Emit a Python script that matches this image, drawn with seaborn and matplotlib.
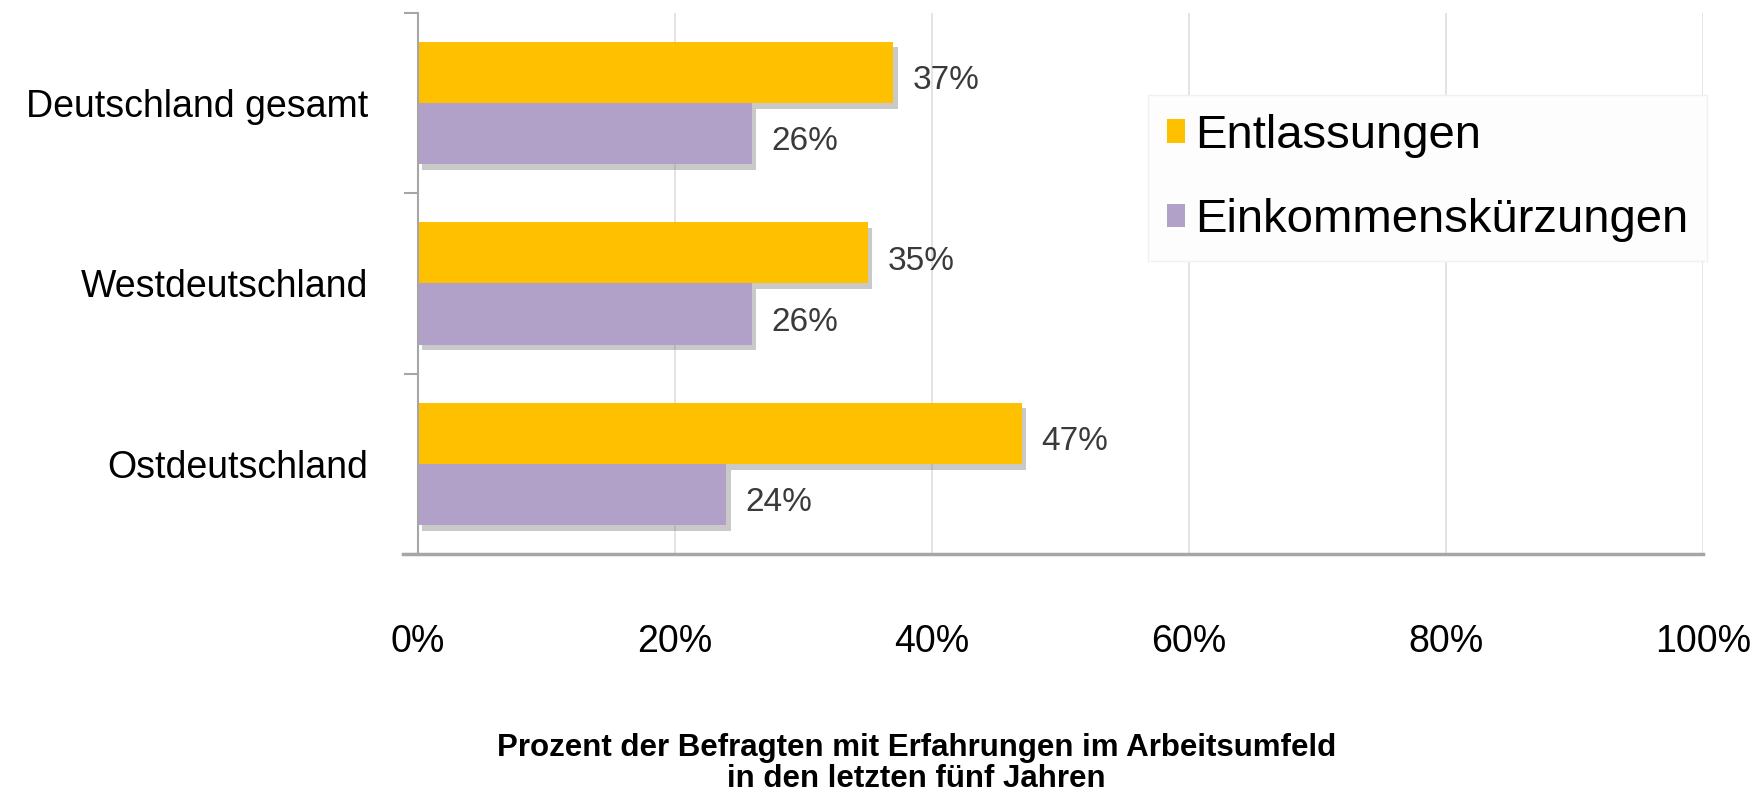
import matplotlib
matplotlib.use("Agg")
import matplotlib.pyplot as plt
import matplotlib.patheffects as pe
from matplotlib.patches import Patch
from matplotlib.ticker import FixedLocator, PercentFormatter
import seaborn as sns
import pandas as pd

categories = ["Deutschland gesamt", "Westdeutschland", "Ostdeutschland"]
series = ["Entlassungen", "Einkommenskürzungen"]
entlassungen = [37, 35, 47]
einkommen = [26, 26, 24]
colors = ["#FFC000", "#B1A0C7"]
x_ticks = [0, 20, 40, 60, 80, 100]

sns.set_style("white")
plt.rcParams["font.family"] = ["Liberation Sans Narrow", "Liberation Sans", "DejaVu Sans"]
plt.rcParams["text.color"] = "black"

df = pd.DataFrame({
    "Region": categories * 2,
    "Serie": [series[0]] * 3 + [series[1]] * 3,
    "Wert": entlassungen + einkommen,
})

fig = plt.figure(figsize=(17.61, 7.94), dpi=100)
ax = fig.add_axes([0.2374, 0.302, 0.7296, 0.682])

sns.barplot(data=df, y="Region", x="Wert", hue="Serie", order=categories,
            hue_order=series, palette=colors, orient="h", width=0.68,
            saturation=1, ax=ax, errorbar=None, edgecolor="none", legend=False)

shadow = [pe.SimplePatchShadow(offset=(3, -4), shadow_rgbFace="#666666", alpha=0.35), pe.Normal()]
for p in ax.patches:
    p.set_path_effects(shadow)

for cont in ax.containers:
    anns = ax.bar_label(cont, labels=[f"{v:.0f}%" for v in cont.datavalues], padding=14,
                        fontsize=24, color="#3a3a3a")
    for a in anns:
        a.xyann = (14, -6)

ax.set_xlim(0, 100)
ax.set_ylim(2.5, -0.5)
ax.xaxis.set_major_locator(FixedLocator(x_ticks))
ax.xaxis.set_major_formatter(PercentFormatter(decimals=0))
ax.grid(axis="x", color="#dcdcdc", linewidth=1.1)
ax.set_axisbelow(True)
for s in ["top", "right"]:
    ax.spines[s].set_visible(False)
ax.spines["left"].set_color("#a6a6a6")
ax.spines["bottom"].set_color("#a6a6a6")
ax.spines["left"].set_linewidth(1.5)
ax.spines["bottom"].set_linewidth(2.5)
ax.spines["bottom"].set_bounds(-1.2, 100)
ax.spines["left"].set_bounds(2.5, -0.5)

ax.tick_params(axis="x", which="major", length=10, width=1.1, color="#dcdcdc",
               labelsize=27, pad=40, labelcolor="black")
ax.yaxis.set_minor_locator(FixedLocator([-0.5, 0.5, 1.5, 2.5]))
ax.tick_params(axis="y", which="major", length=0, labelsize=27, pad=36, labelcolor="black")
ax.tick_params(axis="y", which="minor", length=10, width=1.5, color="#a6a6a6", left=True)

ax.set_ylabel("")
ax.set_xlabel("Prozent der Befragten mit Erfahrungen im Arbeitsumfeld\nin den letzten fünf Jahren",
              fontsize=22.5, fontweight="bold", linespacing=1.05, color="black")
ax.xaxis.set_label_coords(0.388, -0.330)
ax.xaxis.label.set_verticalalignment("top")

handles = [Patch(facecolor=c, edgecolor="none") for c in colors]
leg = ax.legend(handles, series, loc="upper left", bbox_to_anchor=(0.568, 0.848),
                borderaxespad=0, fontsize=34, frameon=True, fancybox=False,
                handlelength=0.38, handleheight=0.38, handletextpad=0.22,
                labelspacing=0.85, borderpad=0.4, edgecolor="#f0f0f0",
                facecolor="#fdfdfd", framealpha=1)
leg.get_frame().set_linewidth(1)

fig.savefig("out.png", dpi=100)
